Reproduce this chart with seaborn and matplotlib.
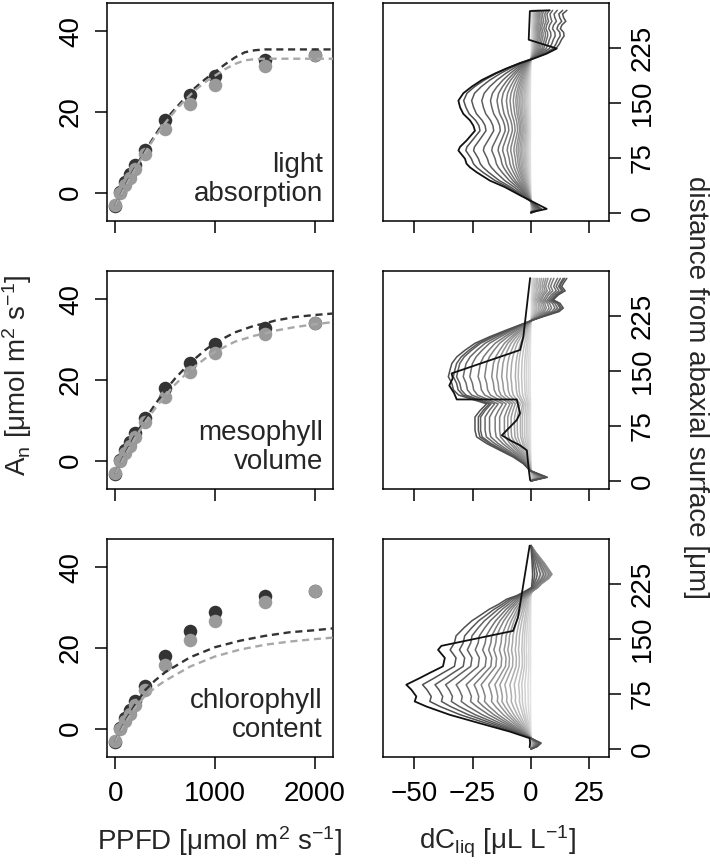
import matplotlib
matplotlib.use("Agg")
import matplotlib.pyplot as plt
import pandas as pd
import seaborn as sns

# ---------------- data: left panels (light response curves) ----------------
ppfd = [0, 50, 100, 150, 200, 300, 500, 750, 1000, 1500, 2000]
an_dark = [-3.2, 0.3, 2.6, 4.6, 6.9, 10.5, 17.9, 24.2, 28.9, 32.9, 34.0]
an_light = [-3.0, -0.1, 1.9, 3.7, 5.9, 9.6, 15.9, 22.1, 26.6, 31.5, 34.2]

curve_ppfd_a = [0, 100, 200, 300, 400, 500, 600, 700, 800, 900, 1000, 1100,
                1200, 1300, 1400, 1500, 1750, 2000, 2200]
curve_a_dark = [-3.2, 1.8, 6.3, 10.4, 14.3, 18.0, 20.8, 23.5, 26.0, 28.1, 29.9,
                31.8, 33.5, 34.8, 35.3, 35.5, 35.5, 35.5, 35.5]
curve_a_light = [-3.2, 1.6, 6.0, 10.0, 13.9, 17.3, 20.3, 23.0, 25.4, 27.4, 29.0,
                 30.6, 31.9, 32.8, 33.1, 33.2, 33.2, 33.2, 33.2]

curve_ppfd_b = [0, 100, 200, 300, 400, 500, 600, 700, 800, 900, 1000, 1200,
                1400, 1500, 1600, 1800, 2000, 2200]
curve_b_dark = [-3.2, 1.8, 6.3, 10.3, 14.0, 17.4, 20.4, 23.0, 25.3, 27.4, 29.2,
                31.8, 33.5, 34.0, 34.7, 35.6, 36.1, 36.5]
curve_b_light = [-3.2, 1.5, 5.8, 9.6, 13.0, 16.1, 18.9, 21.3, 23.4, 25.3, 27.0,
                 29.5, 31.0, 31.5, 32.2, 33.1, 33.8, 34.4]

curve_ppfd_c = [0, 100, 200, 300, 400, 500, 750, 1000, 1250, 1500, 1750, 2000, 2200]
curve_c_dark = [-3.2, 1.9, 6.0, 9.6, 12.0, 14.0, 17.7, 20.2, 21.8, 23.0, 23.9, 24.4, 24.9]
curve_c_light = [-3.2, 1.6, 5.3, 8.2, 10.2, 11.9, 15.4, 17.9, 19.6, 20.8, 21.6, 22.2, 22.6]

panel_labels = ["light\nabsorption", "mesophyll\nvolume", "chlorophyll\ncontent"]

# ---------------- data: right panels (dC_liq profiles) ----------------
# panel 1 (light absorption)
depth_1 = [0, 5, 15, 24, 35, 44, 55, 62, 67, 74, 85, 90, 99, 112, 119, 126, 135,
           144, 153, 163, 172, 181, 190, 197, 204, 210, 217, 224, 230, 236, 241,
           246, 251, 256, 261, 266, 271, 276]
shape_1 = [0, 5, 0.3, -4.5, -10.5, -16.5, -22, -25, -26.5, -27.5, -30, -29.5, -27,
           -23.5, -24, -25.5, -28.5, -30, -31, -29.5, -26, -21.5, -16, -11, -5.5,
           0.5, 6.5, 11.5, 13, 14, 15.2, 15, 13.5, 14.2, 16, 15, 14.5, 16.5]
factor_1 = [0.01, 0.025, 0.04, 0.055, 0.07, 0.085, 0.1, 0.12, 0.14, 0.16, 0.185,
            0.21, 0.245, 0.29, 0.34, 0.405, 0.47, 0.56, 0.68, 0.82, 0.93]
black_depth_1 = [1, 5.5, 24, 35, 44, 55.5, 62, 67, 74, 85, 90, 99, 112, 119, 126,
                 135, 144, 153, 163, 172, 181, 190, 197, 204, 210, 217, 224, 236,
                 275, 276]
black_x_1 = [0, 6.7, -4.7, -11.1, -17.6, -23.3, -26.1, -27.6, -28.3, -31.1, -30.4,
             -27.5, -24, -24.7, -26.1, -29, -30.4, -31.1, -29, -25.4, -21.1, -15.4,
             -10.4, -4.7, 0.9, 6.7, 11, -1, -0.5, 8]

# panel 2 (mesophyll volume)
depth_2 = [0, 5, 14, 23.5, 32.5, 41.7, 51, 60, 69, 78, 87, 96, 105, 111, 117, 124,
           133, 142, 151, 160, 169, 178, 187.5, 196.6, 205.7, 212.6, 219.4, 224,
           230.7, 235.5, 242, 246.7, 253.5, 259, 265, 270, 276]
shape_2 = [0, 7, -0.4, -3.3, -7.6, -13.3, -19, -23.3, -24, -24, -24, -21.8, -19,
           -25, -31, -33.2, -33.9, -35.4, -34.7, -33.9, -31.8, -28.3, -24, -17.6,
           -10.4, -4.7, 1, 5.3, 12, 13.8, 12.4, 9.5, 11.7, 14.6, 13.1, 14, 15.3]
factor_2 = [0.01, 0.03, 0.055, 0.08, 0.115, 0.155, 0.19, 0.245, 0.295, 0.355,
            0.415, 0.475, 0.56, 0.64, 0.74, 0.82, 0.9, 0.94, 1.0]
black_depth_2 = [1, 19, 41.7, 48.5, 55.4, 62.2, 69, 83, 92.2, 111, 111, 120, 130,
                 140, 146.5, 178.4, 196.5, 276.4]
black_x_2 = [-0.4, -1.1, -1.8, -4.7, -9, -12.5, -10.4, -6.1, -4.7, -6.1, -31.8,
             -33, -35, -33.5, -34, -4.7, -3.3, -0.4]

# panel 3 (chlorophyll content)
depth_3 = [0, 3, 8, 14.6, 23.6, 35, 46.5, 57.8, 64.7, 71.5, 80.6, 87.5, 96.6,
           103.5, 112.5, 124, 135, 144.5, 154, 165, 174.6, 182, 190.4, 197, 204,
           209, 215, 220, 225, 232, 238, 245, 252, 260, 268, 277]
shape_3 = [0, 3, 5, 0, -9.1, -22, -34.8, -44.8, -49.8, -49.1, -51.2, -53.4, -47.6,
           -43.4, -37.7, -36.9, -39.8, -37.7, -36.9, -33, -29.1, -25, -20.5, -16,
           -12, -7, -3, 0, 0, 0, 0, 0, 0, 0, 0, 0]
top_3 = [0, 0, 0, 0, 0, 0, 0, 0, 0, 0, 0, 0, 0, 0, 0, 0, 0, 0, 0, 0, 0, 0, 0, 0,
         0, 0.5, 1.5, 3, 4.5, 7.5, 9, 7.5, 6, 4, 2, 0]
factor_3 = [0.005, 0.025, 0.05, 0.075, 0.10, 0.135, 0.17, 0.21, 0.25, 0.29, 0.34,
            0.40, 0.456, 0.52, 0.60, 0.685, 0.77, 0.87]
factor_top_3 = [0.05, 0.15, 0.28, 0.42, 0.55, 0.68, 0.8, 0.9, 0.97, 1.0, 0.95,
                0.85, 0.72, 0.6, 0.45, 0.3, 0.18, 0.08]
black_depth_3 = [2.3, 7.8, 14.6, 23.6, 35, 46.5, 57.8, 64.7, 71.5, 80.6, 87.5, 96.6,
                 103.5, 112.5, 124, 135, 140.4, 160.8, 179, 277]
black_x_3 = [-0.6, -0.4, -0.6, -9.1, -22, -34.8, -44.8, -49.8, -49.1, -51.2, -53.4,
             -47.6, -43.4, -37.7, -36.9, -39.8, -38.4, -7.7, -5.6, -0.6]

# ---------------- style ----------------
sns.set_style("ticks")
plt.rcParams.update({
    "font.family": ["Liberation Sans", "DejaVu Sans"],
    "font.size": 20,
    "mathtext.fontset": "custom",
    "mathtext.rm": "Liberation Sans",
    "mathtext.it": "Liberation Sans",
    "mathtext.default": "regular",
    "axes.linewidth": 1.1,
    "axes.edgecolor": "black",
    "xtick.major.width": 1.1,
    "ytick.major.width": 1.1,
    "xtick.major.size": 8.5,
    "ytick.major.size": 8.5,
    "xtick.color": "black",
    "ytick.color": "black",
    "xtick.labelsize": 20,
    "ytick.labelsize": 20,
})

DARK = "#333333"
LIGHT = "#9a9a9a"

W, H = 710, 864
fig = plt.figure(figsize=(W / 100, H / 100), dpi=100)


def ax_at(x0, y0, x1, y1):
    return fig.add_axes([x0 / W, 1 - y1 / H, (x1 - x0) / W, (y1 - y0) / H])


row_tops = [3, 271, 539]
row_h = 218
curves = [
    (curve_ppfd_a, curve_a_dark, curve_a_light),
    (curve_ppfd_b, curve_b_dark, curve_b_light),
    (curve_ppfd_c, curve_c_dark, curve_c_light),
]
profiles = [
    (depth_1, shape_1, factor_1, None, None, black_depth_1, black_x_1),
    (depth_2, shape_2, factor_2, None, None, black_depth_2, black_x_2),
    (depth_3, shape_3, factor_3, top_3, factor_top_3, black_depth_3, black_x_3),
]

for r in range(3):
    top = row_tops[r]
    # ---------- left panel ----------
    ax = ax_at(107, top, 333, top + row_h)
    sns.scatterplot(x=ppfd, y=an_dark, color=DARK, s=95, linewidth=0, ax=ax, zorder=2)
    sns.scatterplot(x=ppfd, y=an_light, color=LIGHT, s=95, linewidth=0, ax=ax, zorder=3)
    cx, cd, cl = curves[r]
    sns.lineplot(x=cx, y=cd, color=DARK, linewidth=1.7, linestyle=(0, (3, 2)),
                 ax=ax, zorder=4)
    sns.lineplot(x=cx, y=cl, color="#a8a8a8", linewidth=1.7, linestyle=(0, (3, 2)),
                 ax=ax, zorder=4)
    ax.set_xlim(-84, 2184)
    ax.set_ylim(-7, 47)
    ax.set_xticks([0, 1000, 2000])
    ax.set_yticks([0, 20, 40])
    ax.tick_params(axis="y", labelrotation=90, pad=8)
    ax.tick_params(axis="x", pad=9)
    for lab in ax.get_yticklabels():
        lab.set_va("center")
    if r < 2:
        ax.tick_params(labelbottom=False)
    ax.set_xlabel("")
    ax.set_ylabel("")
    ax.text(0.955, 0.062, panel_labels[r], transform=ax.transAxes, ha="right",
            va="bottom", fontsize=20, linespacing=1.15)

    # ---------- right panel ----------
    axr = ax_at(382.7, top, 609.3, top + row_h)
    depth, shape, fac, tshape, tfac, bd, bx = profiles[r]
    rows = []
    for i, f in enumerate(fac):
        for j, d in enumerate(depth):
            x = f * shape[j]
            if tshape is not None:
                x += tfac[i] * tshape[j]
            rows.append((i, d, x))
    df = pd.DataFrame(rows, columns=["line", "depth", "dC"])
    pal = sns.blend_palette(["#e2e2e2", "#505050"], n_colors=len(fac))
    sns.lineplot(data=df, x="dC", y="depth", hue="line", palette=pal, sort=False,
                 estimator=None, legend=False, linewidth=1.1, ax=axr)
    sns.lineplot(x=bx, y=bd, color="#111111", sort=False, estimator=None,
                 linewidth=1.3, ax=axr)
    axr.set_xlim(-63.5, 33.5)
    axr.set_ylim(-11, 286)
    axr.set_xticks([-50, -25, 0, 25])
    axr.set_yticks([0, 75, 150, 225])
    axr.yaxis.tick_right()
    axr.tick_params(axis="y", labelrotation=90, pad=6)
    axr.tick_params(axis="x", pad=9)
    for lab in axr.get_yticklabels():
        lab.set_va("center")
    if r < 2:
        axr.tick_params(labelbottom=False)
    axr.set_xlabel("")
    axr.set_ylabel("")

fig.text(220 / W, 1 - 850 / H, "PPFD [μmol m$^{2}$ s$^{-1}$]", ha="center",
         va="baseline", fontsize=20)
fig.text(497 / W, 1 - 850 / H, "dC$_{liq}$ [μL L$^{-1}$]", ha="center",
         va="baseline", fontsize=20)
fig.text(17 / W, 1 - 375 / H, "A$_{n}$ [μmol m$^{2}$ s$^{-1}$]", ha="center",
         va="center", rotation=90, fontsize=20)
fig.text(696 / W, 1 - 388 / H, "distance from abaxial surface [μm]", ha="center",
         va="center", rotation=270, fontsize=20)

fig.savefig("out.png", dpi=100)
